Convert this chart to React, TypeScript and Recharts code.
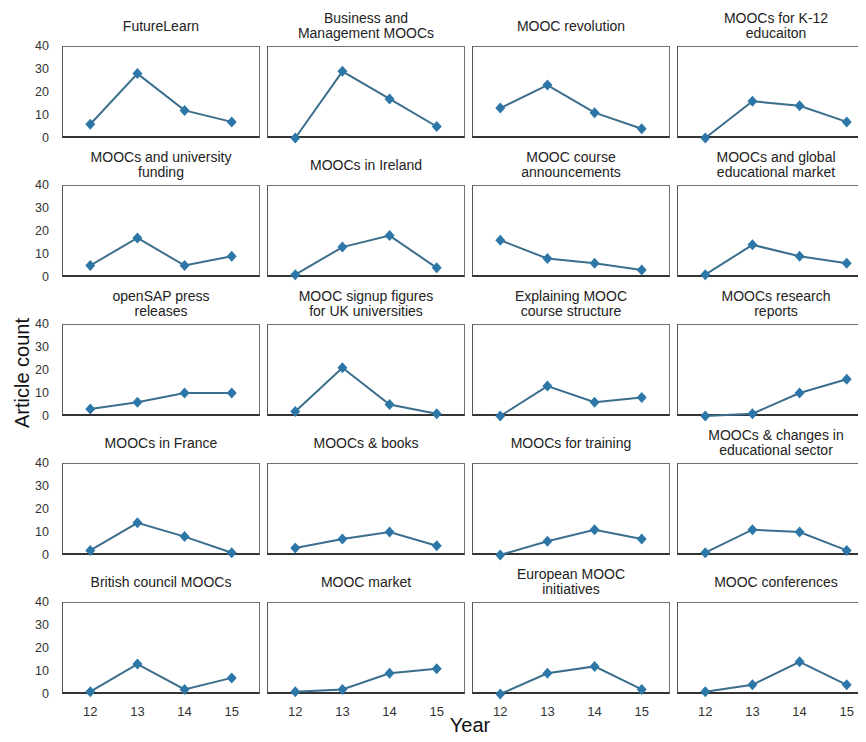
import React from 'react';
import { LineChart, Line, XAxis, YAxis } from 'recharts';

// years on the x axis (20xx)
const years = [12, 13, 14, 15];
const yTicks = [0, 10, 20, 30, 40];

const titles = [
  'FutureLearn', 'Business and Management MOOCs', 'MOOC revolution', 'MOOCs for K-12 educaiton',
  'MOOCs and university funding', 'MOOCs in Ireland', 'MOOC course announcements', 'MOOCs and global educational market',
  'openSAP press releases', 'MOOC signup figures for UK universities', 'Explaining MOOC course structure', 'MOOCs research reports',
  'MOOCs in France', 'MOOCs & books', 'MOOCs for training', 'MOOCs & changes in educational sector',
  'British council MOOCs', 'MOOC market', 'European MOOC initiatives', 'MOOC conferences'
];

// title line breaks as in the figure
const titleLines = [
  ['FutureLearn'], ['Business and', 'Management MOOCs'], ['MOOC revolution'], ['MOOCs for K-12', 'educaiton'],
  ['MOOCs and university', 'funding'], ['MOOCs in Ireland'], ['MOOC course', 'announcements'], ['MOOCs and global', 'educational market'],
  ['openSAP press', 'releases'], ['MOOC signup figures', 'for UK universities'], ['Explaining MOOC', 'course structure'], ['MOOCs research', 'reports'],
  ['MOOCs in France'], ['MOOCs & books'], ['MOOCs for training'], ['MOOCs & changes in', 'educational sector'],
  ['British council MOOCs'], ['MOOC market'], ['European MOOC', 'initiatives'], ['MOOC conferences']
];

const counts = [
  [6, 28, 12, 7], [0, 29, 17, 5], [13, 23, 11, 4], [0, 16, 14, 7],
  [5, 17, 5, 9], [1, 13, 18, 4], [16, 8, 6, 3], [1, 14, 9, 6],
  [3, 6, 10, 10], [2, 21, 5, 1], [0, 13, 6, 8], [0, 1, 10, 16],
  [2, 14, 8, 1], [3, 7, 10, 4], [0, 6, 11, 7], [1, 11, 10, 2],
  [1, 13, 2, 7], [1, 2, 9, 11], [0, 9, 12, 2], [1, 4, 14, 4]
];

const colLefts = [62, 267, 472, 677];
const rowTops = [46, 185, 324, 463, 602];
const plotW = 198;
const plotH = 92;
const yAxisW = 50;
const xAxisH = 30;
const pad = 8;
const font = '"Liberation Sans", Arial, Helvetica, sans-serif';

const Diamond = (props: any) => {
  const { cx, cy } = props;
  if (cx == null || cy == null) return null;
  return <path key={props.key} d={`M${cx},${cy - 5.5}L${cx + 5},${cy}L${cx},${cy + 5.5}L${cx - 5},${cy}Z`} fill="#2d77a8" />;
};

const Panel = ({ idx }: { idx: number }) => {
  const row = Math.floor(idx / 4);
  const col = idx % 4;
  const showY = col === 0;
  const showX = row === 4;
  const left = colLefts[col];
  const top = rowTops[row];
  const data = years.map((y, i) => ({ year: y, count: counts[idx][i] }));
  const chartW = plotW + (showY ? yAxisW : 0);
  const chartH = plotH + pad + (showX ? xAxisH : pad);
  return <>
      <div style={{
      position: 'absolute',
      left: left - 10,
      top: top - 36,
      width: plotW + 20,
      height: 32,
      display: 'flex',
      flexDirection: 'column',
      justifyContent: 'center',
      alignItems: 'center',
      fontSize: 14,
      lineHeight: '15px',
      color: '#222'
    }}>
        <div style={{ textAlign: 'center', whiteSpace: 'nowrap' }}>
          {titleLines[idx].map((t, i) => <React.Fragment key={t}>{i > 0 && <br />}{t}</React.Fragment>)}
        </div>
      </div>
      <div style={{
      position: 'absolute',
      left: left,
      top: top,
      width: plotW,
      height: plotH,
      boxSizing: 'border-box',
      borderTop: '1.5px solid #707070',
      borderLeft: '1.5px solid #555',
      borderRight: '1.5px solid #707070',
      borderBottom: '2px solid #333'
    }} />
      <div style={{ position: 'absolute', left: left - (showY ? yAxisW : 0), top: top - pad }}>
        <LineChart width={chartW} height={chartH} data={data} margin={{ top: pad, right: 0, bottom: showX ? 0 : pad, left: 0 }}>
          <XAxis dataKey="year" type="number" domain={[11.4, 15.6]} ticks={years} interval={0} hide={!showX} height={xAxisH}
            tickLine={false} axisLine={false} tickMargin={7} tick={{ fill: '#333', fontSize: 13, fontFamily: font }} />
          <YAxis type="number" domain={[0, 40]} ticks={yTicks} interval={0} hide={!showY} width={yAxisW}
            tickLine={false} axisLine={false} tickMargin={7} tick={{ fill: '#333', fontSize: 12.5, fontFamily: font }} />
          <Line dataKey="count" type="linear" stroke="#3b6e8c" strokeWidth={2} dot={<Diamond />} activeDot={false} isAnimationActive={false} />
        </LineChart>
      </div>
    </>;
};

const App = () => {
  return <div style={{
    position: 'relative',
    width: 866,
    height: 742,
    margin: -8,
    overflow: 'hidden',
    background: '#fff',
    fontFamily: font
  }}>
      {titles.map((t, i) => <Panel key={t} idx={i} />)}
      <div style={{
      position: 'absolute',
      left: 22 - 70,
      top: 373 - 12,
      width: 140,
      height: 24,
      textAlign: 'center',
      fontSize: 20,
      lineHeight: '24px',
      color: '#111',
      transform: 'rotate(-90deg)'
    }}>Article count</div>
      <div style={{
      position: 'absolute',
      left: 470 - 40,
      top: 713,
      width: 80,
      textAlign: 'center',
      fontSize: 20,
      lineHeight: '24px',
      color: '#111'
    }}>Year</div>
    </div>;
};

export default App;
